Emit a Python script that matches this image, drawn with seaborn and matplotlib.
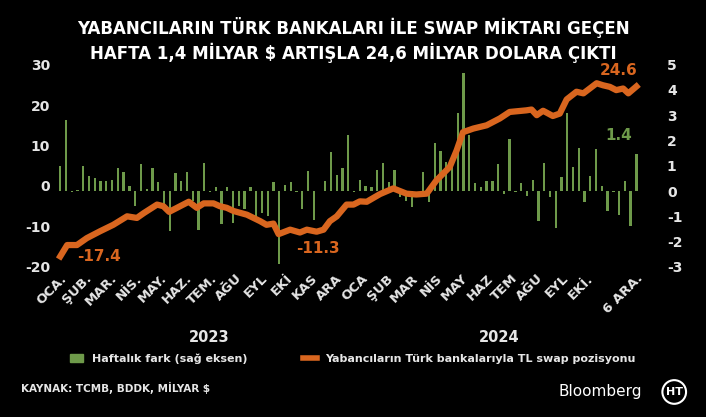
import matplotlib
matplotlib.use("Agg")
import matplotlib.pyplot as plt
import seaborn as sns
from matplotlib.patches import Patch
from matplotlib.lines import Line2D

# haftalık fark (sağ eksen, milyar $), 101 hafta
haftalik = [1.0, 2.8, -0.05, 0.05, 1.0, 0.6, 0.5, 0.4, 0.4, 0.45, 0.9, 0.75, 0.2, -0.6, 1.05,
            0.1, 0.9, 0.35, -0.5, -1.6, 0.7, 0.4, 0.75, -0.4, -1.55, 1.1, -0.02, 0.15, -1.3, 0.15,
            -1.25, -0.6, -0.7, 0.15, -1.05, -0.85, -1.0, 0.35, -2.9, 0.25, 0.35, -0.05, -0.7, 0.8,
            -1.15, 0.02, 0.4, 1.55, 0.65, 0.9,
            2.2, -0.02, 0.45, 0.2, 0.15, 0.85, 1.1, 0.35, 0.85, -0.25, -0.4, -0.65, 0.02, 0.75,
            -0.45, 1.9, 1.6, 1.15, 1.3, 3.1, 4.65, 2.2, 0.3, 0.15, 0.4, 0.4, 1.05, -0.1, 2.05,
            -0.02, 0.3, -0.2, 0.45, -1.2, 1.1, -0.25, -1.45, 0.55, 3.1, 0.95, 1.7, -0.45, 0.6,
            1.65, 0.2, -0.8, -0.02, -0.95, 0.4, -1.4, 1.45]
hafta = list(range(len(haftalik)))

# swap pozisyonu (sol eksen, milyar $)
poz_hafta = [0, 1.2, 2.9, 4.6, 6.9, 9.2, 11.6, 13.3, 14.5, 16.8, 17.9, 18.9, 20.8, 22.3, 23.7,
             24.9, 26.6, 27.7, 28.9, 30.1, 32.4, 34.7, 35.8, 37.0, 37.9, 39.9, 41.6, 42.8, 44.5,
             45.7, 46.8, 48.0, 49.7, 50.9, 52.0, 53.2, 55.5, 57.8, 60.1, 61.8, 63.6, 65.3, 67.6,
             68.8, 69.9, 71.7, 74.0, 76.3, 78.0, 80.9, 81.8, 82.7, 83.8, 85.5, 86.7, 87.9, 89.6,
             90.8, 93.1, 94.2, 95.4, 96.5, 97.7, 98.6, 100]
pozisyon = [-17.4, -14.6, -14.6, -12.9, -11.2, -9.6, -7.5, -7.9, -6.7, -4.6, -5.0, -6.4, -5.0,
            -3.9, -5.4, -4.3, -4.3, -5.0, -5.4, -6.2, -7.1, -8.7, -9.6, -9.3, -11.9, -10.8, -11.5,
            -10.8, -11.3, -10.8, -8.7, -7.5, -4.6, -4.6, -3.8, -3.9, -2.0, -0.6, -1.9, -2.1, -1.9,
            1.4, 4.7, 8.8, 13.3, 14.2, 15.0, 16.7, 18.3, 18.7, 18.9, 17.5, 18.6, 17.3, 17.9, 21.4,
            23.3, 22.9, 25.4, 24.9, 24.5, 23.7, 24.1, 22.9, 24.6]

aylar = ["OCA.", "ŞUB.", "MAR.", "NİS.", "MAY.", "HAZ.", "TEM.", "AĞU", "EYL", "EKİ", "KAS", "ARA",
         "OCA", "ŞUB", "MAR", "NİS", "MAY", "HAZ", "TEM", "AĞU", "EYL", "EKİ."]

YESIL = "#6e9a4a"
TURUNCU = "#d9661f"
YAZI = "#e6e6e6"

fig = plt.figure(figsize=(7.06, 4.17), dpi=100, facecolor="black")
ax = fig.add_axes([0.078, 0.36, 0.843, 0.485])
ax2 = ax.twinx()

sns.barplot(x=hafta, y=haftalik, native_scale=True, color=YESIL, width=0.4, ax=ax2,
            saturation=1)
sns.lineplot(x=poz_hafta, y=pozisyon, sort=False, color=TURUNCU, lw=4.5, ax=ax)
ax.set_zorder(ax2.get_zorder() + 1)
ax.patch.set_visible(False)
ax2.set_facecolor("black")

ax.set_ylim(-20, 30)
ax2.set_ylim(-3, 5)
ax.set_xlim(-0.9, 102.4)
ax.set_yticks(range(-20, 31, 10))
ax2.set_yticks(range(-3, 6))
for a in (ax, ax2):
    for s in a.spines.values():
        s.set_visible(False)
    a.tick_params(colors=YAZI, length=0, labelsize=10)
ax.set_yticklabels([str(v) for v in range(-20, 31, 10)], fontweight="bold")
ax2.set_yticklabels([str(v) for v in range(-3, 6)], fontweight="bold")
ax2.tick_params(axis="y", pad=12)
ax2.set_xlabel("")
ax.set_xlabel("")

ticks = [i * 4.35 for i in range(len(aylar))] + [100]
ax.set_xticks(ticks)
ax.set_xticklabels(aylar + ["6 ARA."], rotation=45, ha="right", rotation_mode="anchor",
                   fontweight="bold", fontsize=9.5)

ax.text(3, -17.4, "-17.4", color=TURUNCU, fontsize=11, fontweight="bold", va="center")
ax.text(41, -15.5, "-11.3", color=TURUNCU, fontsize=11, fontweight="bold", va="center")
ax.text(97, 27.5, "24.6", color=TURUNCU, fontsize=11, fontweight="bold", ha="center")
ax2.text(97, 2.0, "1.4", color=YESIL, fontsize=11, fontweight="bold", ha="center")

fig.text(0.5, 0.96, "YABANCILARIN TÜRK BANKALARI İLE SWAP MİKTARI GEÇEN\nHAFTA 1,4 MİLYAR $ ARTIŞLA 24,6 MİLYAR DOLARA ÇIKTI",
         color="white", fontsize=12, fontweight="bold", ha="center", va="top", linespacing=1.3)
fig.text(0.297, 0.18, "2023", color=YAZI, fontsize=10.5, fontweight="bold", ha="center")
fig.text(0.707, 0.18, "2024", color=YAZI, fontsize=10.5, fontweight="bold", ha="center")

handles = [Patch(color=YESIL, label="Haftalık fark (sağ eksen)"),
           Line2D([], [], color=TURUNCU, lw=4, label="Yabancıların Türk bankalarıyla TL swap pozisyonu")]
fig.legend(handles=handles, loc="center", bbox_to_anchor=(0.5, 0.14), ncol=2, frameon=False,
           labelcolor=YAZI, prop={"weight": "bold", "size": 8}, handlelength=1.2, columnspacing=5)

fig.text(0.03, 0.06, "KAYNAK: TCMB, BDDK, MİLYAR $", color=YAZI, fontsize=7.5, fontweight="bold")
fig.text(0.91, 0.06, "Bloomberg", color="white", fontsize=11, ha="right", va="center")
fig.text(0.955, 0.06, "HT", color="white", fontsize=8, fontweight="bold", ha="center", va="center",
         bbox=dict(boxstyle="circle,pad=0.3", fc="black", ec="white", lw=1.5))

fig.savefig("out.png", dpi=100, facecolor="black")
